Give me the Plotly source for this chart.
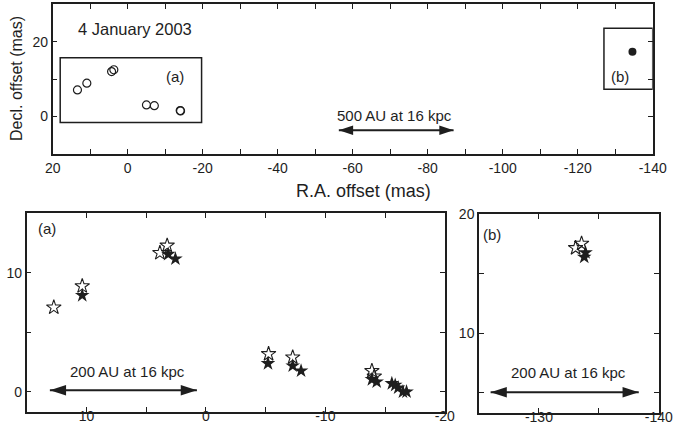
import plotly.graph_objects as go

W, H = 673, 439

# ---------------- data ----------------
# Overview panel (4 January 2003): maser spots, open circles
top_open_x = [13.4, 10.9, 4.3, 3.7, -5.0, -7.1, -14.0, -14.1]
top_open_y = [7.1, 8.9, 12.0, 12.5, 3.1, 2.9, 1.6, 1.5]
# Region (b) spot cluster (filled)
top_fill_x = [-134.6]
top_fill_y = [17.3]

# Panel (a): open stars and filled stars
a_open_x = [12.73, 10.35, 3.85, 3.24, -5.25, -7.27, -13.9, -14.1]
a_open_y = [7.09, 8.88, 11.67, 12.29, 3.18, 2.90, 1.76, 1.30]
a_fill_x = [10.35, 3.15, 2.55, -5.20, -7.27, -7.97, -13.9, -14.3, -15.57, -15.85, -16.1, -16.5, -16.8]
a_fill_y = [8.10, 11.56, 11.17, 2.38, 2.18, 1.76, 1.04, 0.84, 0.70, 0.56, 0.34, 0.00, 0.00]

# Panel (b): open stars and filled stars
b_open_x = [-133.06, -133.56]
b_open_y = [17.16, 17.53]
b_fill_x = [-133.89, -133.78]
b_fill_y = [16.77, 16.40]

# Scale bars (x start, x end, y)
top_bar = ([-56.3, -86.9], [-3.66, -3.66])
a_bar = ([13.06, 0.75], [0.14, 0.14])
b_bar = ([-125.97, -138.33], [5.03, 5.03])

# Tick labels
top_xticks = [20, 0, -20, -40, -60, -80, -100, -120, -140]
top_yticks = [0, 20]
a_xticks = [10, 0, -10, -20]
a_yticks = [0, 10]
b_xticks = [-130, -140]
b_yticks = [10, 20]

def lab(v):
    return [str(t) for t in v]  # plain hyphen-minus as in the original

# ---------------- figure ----------------
FONT = "Liberation Sans, Arial, Helvetica, sans-serif"
INK = "#1e1e1e"

fig = go.Figure()

def dom_x(a, b):
    return [a / W, b / W]

def dom_y(top, bot):
    return [1 - bot / H, 1 - top / H]

# overview
fig.add_trace(go.Scatter(x=top_open_x, y=top_open_y, mode="markers", xaxis="x", yaxis="y",
                         marker=dict(symbol="circle-open", size=8, color=INK, line=dict(width=1.2))))
fig.add_trace(go.Scatter(x=top_fill_x, y=top_fill_y, mode="markers", xaxis="x", yaxis="y",
                         marker=dict(symbol="circle", size=8, color=INK)))
# panel a
fig.add_trace(go.Scatter(x=a_open_x, y=a_open_y, mode="markers", xaxis="x2", yaxis="y2",
                         marker=dict(symbol="star-open", size=11, color=INK, line=dict(width=1.1))))
fig.add_trace(go.Scatter(x=a_fill_x, y=a_fill_y, mode="markers", xaxis="x2", yaxis="y2",
                         marker=dict(symbol="star", size=11, color=INK, line=dict(width=0))))
# panel b
fig.add_trace(go.Scatter(x=b_open_x, y=b_open_y, mode="markers", xaxis="x3", yaxis="y3",
                         marker=dict(symbol="star-open", size=11, color=INK, line=dict(width=1.1))))
fig.add_trace(go.Scatter(x=b_fill_x, y=b_fill_y, mode="markers", xaxis="x3", yaxis="y3",
                         marker=dict(symbol="star", size=11, color=INK, line=dict(width=0))))

# scale bars with arrow heads
for (bx, by), xa, ya, sz in [(top_bar, "x", "y", 15), (a_bar, "x2", "y2", 17), (b_bar, "x3", "y3", 17)]:
    fig.add_trace(go.Scatter(x=bx, y=by, mode="lines+markers", xaxis=xa, yaxis=ya,
                             line=dict(color=INK, width=2),
                             marker=dict(symbol="arrow", size=sz, color=INK, angle=[-90, 90],
                                         line=dict(width=0))))

axis_common = dict(showline=True, mirror="ticks", linecolor=INK, linewidth=1.5,
                   ticks="inside", ticklen=5, tickwidth=1.3, tickcolor=INK,
                   showgrid=False, zeroline=False, automargin=False,
                   tickfont=dict(family=FONT, size=14, color=INK))
minor_common = dict(ticks="inside", ticklen=5, tickwidth=1.3, tickcolor=INK)

fig.update_layout(
    width=W, height=H, margin=dict(l=0, r=0, t=0, b=0),
    paper_bgcolor="white", plot_bgcolor="white", showlegend=False,
    xaxis=dict(axis_common, domain=dom_x(52.7, 652.7), range=[20, -140], anchor="y",
               tickmode="array", tickvals=top_xticks, ticktext=lab(top_xticks),
               ticklabelstandoff=0,
               minor=dict(minor_common, dtick=10, tick0=0)),
    yaxis=dict(axis_common, domain=dom_y(4.2, 154), range=[-10, 30], anchor="x",
               tickmode="array", tickvals=top_yticks, ticktext=lab(top_yticks),
               minor=dict(minor_common, dtick=10, tick0=0)),
    xaxis2=dict(axis_common, domain=dom_x(26.7, 445), range=[15, -20.02], anchor="y2",
                tickmode="array", tickvals=a_xticks, ticktext=lab(a_xticks),
                ticklabelstandoff=-9,
                minor=dict(minor_common, dtick=5, tick0=0)),
    yaxis2=dict(axis_common, domain=dom_y(213.3, 411.7), range=[-1.67, 15], anchor="x2",
                tickmode="array", tickvals=a_yticks, ticktext=lab(a_yticks),
                minor=dict(minor_common, dtick=5, tick0=0)),
    xaxis3=dict(axis_common, domain=dom_x(479, 659), range=[-125, -140.02], anchor="y3",
                tickmode="array", tickvals=b_xticks, ticktext=lab(b_xticks),
                ticklabelstandoff=-9,
                minor=dict(minor_common, dtick=5, tick0=0)),
    yaxis3=dict(axis_common, domain=dom_y(214, 412.7), range=[3.3, 20.02], anchor="x3",
                tickmode="array", tickvals=b_yticks, ticktext=lab(b_yticks),
                minor=dict(minor_common, dtick=5, tick0=0)),
)

# boxes marking regions (a) and (b) on the overview
fig.add_shape(type="rect", xref="x", yref="y", x0=18.0, x1=-19.7, y0=-1.6, y1=15.7,
              line=dict(color=INK, width=1.5))
fig.add_shape(type="rect", xref="x", yref="y", x0=-127.0, x1=-140.0, y0=7.3, y1=23.6,
              line=dict(color=INK, width=1.5))

def note(text, x, y, xr, yr, size=15, **kw):
    kw.setdefault("xanchor", "center")
    kw.setdefault("yanchor", "middle")
    fig.add_annotation(text=text, x=x, y=y, xref=xr, yref=yr, showarrow=False,
                       font=dict(family=FONT, size=size, color=INK), **kw)

note("4 January 2003", 13.8, 23.3, "x", "y", size=16.5, xanchor="left")
note("(a)", -12.5, 10.8, "x", "y", size=15)
note("(b)", -131.3, 10.6, "x", "y", size=15)
note("500 AU at 16 kpc", -71.1, 0.4, "x", "y", size=15)
note("(a)", 13.3, 13.7, "x2", "y2", size=15)
note("200 AU at 16 kpc", 6.6, 1.67, "x2", "y2", size=15)
note("(b)", -126.1, 18.3, "x3", "y3", size=15)
note("200 AU at 16 kpc", -132.5, 6.7, "x3", "y3", size=15)

# axis titles of the overview panel
note("Decl. offset (mas)", 17 / W, 1 - 79 / H, "paper", "paper", size=16, textangle=-90)
note("R.A. offset (mas)", 363 / W, 1 - 190.7 / H, "paper", "paper", size=18)

# the page body has a default 8px margin; remove it so the figure sits at the window origin
fig.write_html("out.html", config={"displayModeBar": False},
               post_script="document.body.style.margin='0';")
